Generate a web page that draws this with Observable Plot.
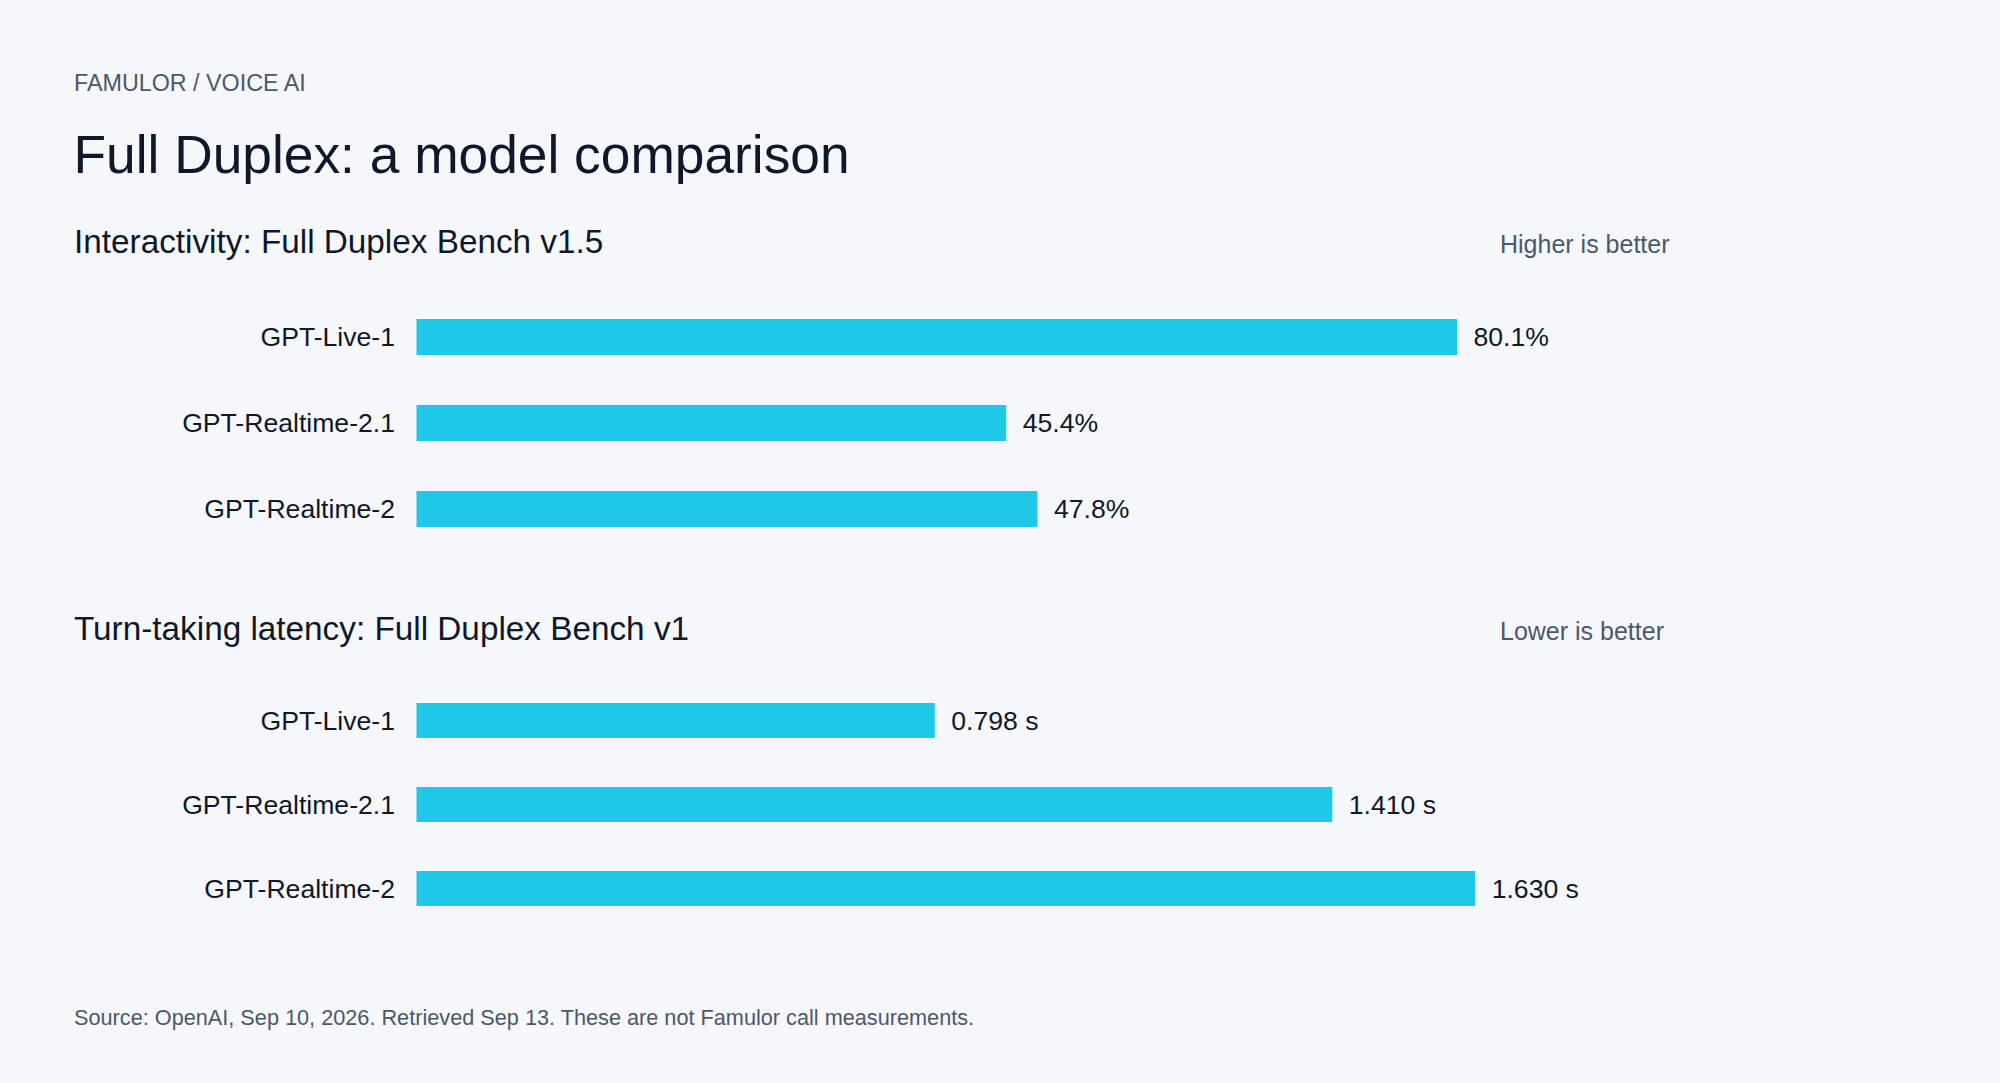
<!DOCTYPE html>
<html>
<head>
<meta charset="utf-8">
<script src="https://cdn.jsdelivr.net/npm/d3@7"></script>
<script src="https://cdn.jsdelivr.net/npm/@observablehq/plot@0.6"></script>
<style>
  html, body { margin: 0; padding: 0; background: #f6f7fb; overflow: hidden; }
  #page { position: relative; width: 2000px; height: 1083px; background: #f6f7fb;
          font-family: "Liberation Sans", Arial, Helvetica, sans-serif; color: #0f172a; }
  .t { position: absolute; white-space: nowrap; line-height: 1; margin: 0; }
  .panel { position: absolute; left: 0; }
</style>
</head>
<body>
<div id="page">
  <div class="t" id="kicker">FAMULOR / VOICE AI</div>
  <div class="t" id="title">Full Duplex: a model comparison</div>
  <div class="t" id="sub1">Interactivity: Full Duplex Bench v1.5</div>
  <div class="t" id="note1">Higher is better</div>
  <div class="panel" id="p1"></div>
  <div class="t" id="sub2">Turn-taking latency: Full Duplex Bench v1</div>
  <div class="t" id="note2">Lower is better</div>
  <div class="panel" id="p2"></div>
  <div class="t" id="source">Source: OpenAI, Sep 10, 2026. Retrieved Sep 13. These are not Famulor call measurements.</div>
</div>
<script>
const models = ["GPT-Live-1", "GPT-Realtime-2.1", "GPT-Realtime-2"];
const interactivity = [80.1, 45.4, 47.8];
const latency = [0.798, 1.410, 1.630];
const interactivityDomain = [0, 100];
const latencyDomain = [0, 2];

const FONT = '"Liberation Sans", Arial, Helvetica, sans-serif';
const INK = "#0f172a";
const MUTED = "#4b5869";
const BAR = "#20c8e8";

// place a text block so that its baseline lands at y (line-height 1, Liberation Sans metrics)
function place(id, left, baseline, size, color) {
  const el = document.getElementById(id);
  el.style.left = left + "px";
  el.style.top = (baseline - 0.8465 * size) + "px";
  el.style.fontSize = size + "px";
  el.style.color = color;
}
place("kicker", 74, 91.5, 23.3, MUTED);
place("title", 73.5, 173, 53.3, INK);
place("sub1", 74, 253, 33.3, INK);
place("note1", 1500, 253, 25, MUTED);
place("sub2", 74, 640, 33.3, INK);
place("note2", 1500, 640, 25, MUTED);
place("source", 74, 1025, 21.7, MUTED);

function panel(values, domain, fmt, padding, height) {
  const data = models.map((m, i) => ({model: m, value: values[i]}));
  return Plot.plot({
    width: 2000,
    height,
    marginTop: 0,
    marginBottom: 0,
    marginLeft: 416.5,
    marginRight: 284.5,
    style: {fontFamily: FONT, background: "transparent", color: INK, overflow: "visible"},
    x: {domain, axis: null},
    y: {domain: models, padding, axis: null},
    marks: [
      Plot.axisY({tickSize: 0, tickPadding: 22, fontSize: 26.6, fill: INK, label: null}),
      Plot.barX(data, {x: "value", y: "model", fill: BAR}),
      Plot.text(data, {x: "value", y: "model", text: d => fmt(d.value), textAnchor: "start",
                       dx: 16, fontSize: 26.6, fill: INK})
    ]
  });
}

const p1 = document.getElementById("p1");
p1.style.top = "266.5px";
p1.appendChild(panel(interactivity, interactivityDomain, v => v.toFixed(1) + "%", 0.585, 311));

const p2 = document.getElementById("p2");
p2.style.top = "653px";
p2.appendChild(panel(latency, latencyDomain, v => v.toFixed(3) + " s", 0.58, 302.5));
</script>
</body>
</html>
